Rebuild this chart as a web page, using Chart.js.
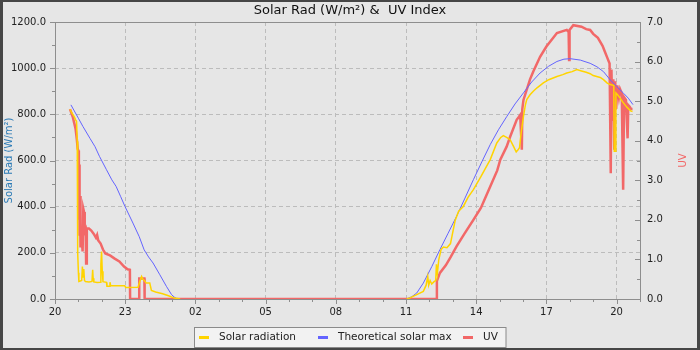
<!DOCTYPE html>
<html>
<head>
<meta charset="utf-8">
<script src="https://cdn.jsdelivr.net/npm/chart.js@4.4.0/dist/chart.umd.min.js"></script>
<style>
    html, body { margin: 0; padding: 0; background: #e6e6e6; }
    canvas { display: block; }
</style>
</head>
<body>
<canvas id="graficaSolar" width="700" height="350"></canvas>
<script>
        // Eje X: horas transcurridas desde las 20:00 (hasta las 21:00 del día siguiente)
        var ticksHoras = [0, 3, 6, 9, 12, 15, 18, 21, 24];
        var etiquetasHoras = ['20', '23', '02', '05', '08', '11', '14', '17', '20'];
        var ticksRadiacion = [0, 200, 400, 600, 800, 1000, 1200];
        var ticksUV = [0, 1, 2, 3, 4, 5, 6, 7];

        // Solar radiation (W/m²)
        var radiacionHoras = [
            0.64, 0.70, 0.76, 0.82, 0.88, 0.92, 0.95, 0.96, 0.98, 1.00,
            1.02, 1.08, 1.14, 1.17, 1.20, 1.23, 1.26, 1.30, 1.45, 1.58,
            1.61, 1.63, 1.66, 1.80, 1.93, 1.96, 1.99, 2.02, 2.05, 2.20,
            2.22, 2.32, 2.35, 2.38, 2.50, 2.98, 3.02, 3.55, 3.62, 3.70,
            3.76, 3.82, 3.90, 4.05, 4.12, 4.30, 4.60, 4.85, 5.10, 5.35,
            10.0,
            15.03, 15.17, 15.46, 15.74, 15.86, 15.93, 15.97, 16.03, 16.10, 16.20,
            16.27, 16.30, 16.34, 16.40, 16.50, 16.60, 16.75, 16.90, 17.00, 17.10,
            17.25, 17.45, 17.65, 17.88, 18.20, 18.60, 18.88, 19.05, 19.16, 19.30,
            19.45, 19.60, 19.71, 19.78, 19.85, 19.92, 20.02, 20.10, 20.16, 20.30,
            20.44, 20.60, 20.87, 21.10, 21.45, 21.70, 21.87, 22.10, 22.30, 22.50,
            22.70, 22.87, 23.00, 23.30, 23.44, 23.60, 23.70, 23.88, 23.90, 23.95,
            23.97, 24.05, 24.15, 24.25, 24.35, 24.45, 24.60, 24.68
        ];
        var radiacionValores = [
            822, 810, 800, 790, 776, 770, 683, 372, 199, 114,
            76, 78, 80, 141, 95, 130, 80, 76, 74, 76,
            127, 90, 74, 72, 73, 150, 206, 120, 75, 72,
            55, 55, 73, 57, 57, 57, 50, 51, 75, 98,
            85, 80, 69, 69, 37, 30, 23, 14, 4, 0,
            null,
            0, 5, 19, 33, 60, 98, 60, 80, 65, 75,
            80, 150, 110, 170, 215, 225, 222, 240, 290, 340,
            380, 401, 440, 474, 530, 604, 676, 700, 708, 700,
            690, 660, 637, 645, 655, 720, 791, 840, 864, 885,
            900, 915, 936, 950, 964, 972, 979, 985, 994, 988,
            982, 976, 968, 960, 950, 935, 930, 925, 640, 640,
            893, 884, 870, 855, 842, 830, 815, 812
        ];

        // Theoretical solar max (W/m²)
        var teoricaHoras = [
            0.68, 1.00, 1.19, 1.50, 1.71, 1.90, 2.20, 2.43, 2.61, 2.80,
            2.99, 3.33, 3.60, 3.81, 4.00, 4.19, 4.48, 4.76, 4.98, 5.10,
            5.22,
            10.0,
            15.03, 15.25, 15.46, 15.74, 16.10, 16.45, 16.80, 17.16,
            17.52, 17.88, 18.24, 18.60, 18.95, 19.31, 19.66, 20.02, 20.37, 20.73,
            21.09, 21.45, 21.75, 22.02, 22.45, 22.87, 23.16, 23.44, 23.73, 24.01,
            24.30, 24.50, 24.70
        ];
        var teoricaValores = [
            841, 783, 748, 695, 660, 618, 560, 516, 488, 445,
            401, 329, 270, 213, 182, 156, 105, 55, 19, 8,
            0,
            null,
            0, 10, 26, 69, 140, 214, 285, 358,
            437, 517, 594, 669, 733, 791, 845, 893, 940, 979,
            1008, 1029, 1039, 1041, 1035, 1021, 1006, 985, 949, 920,
            891, 870, 842
        ];

        // UV Index
        var uvHoras = [
            0.64, 0.70, 0.76, 0.82, 0.88, 0.93, 0.97, 1.00, 1.02, 1.03,
            1.05, 1.07, 1.09, 1.12, 1.15, 1.18, 1.21, 1.24, 1.27, 1.31,
            1.33, 1.36, 1.45, 1.55, 1.65, 1.75, 1.80, 1.85, 1.95, 2.05,
            2.15, 2.35, 2.55, 2.75, 2.95, 3.10, 3.20, 3.21, 3.59, 3.60,
            3.82, 3.83, 16.31, 16.32, 16.45, 16.70, 16.90, 17.16, 17.50, 17.88,
            18.20, 18.60, 18.90, 19.03, 19.30, 19.45, 19.73, 19.82, 19.88, 19.95,
            19.97, 20.02, 20.30, 20.44, 20.73, 21.00, 21.45, 21.87, 21.95, 21.97,
            21.99, 22.15, 22.50, 22.70, 22.87, 23.00, 23.20, 23.40, 23.50, 23.60,
            23.70, 23.75, 23.78, 23.82, 23.86, 23.90, 23.94, 23.98, 24.03, 24.10,
            24.15, 24.22, 24.28, 24.32, 24.40, 24.47, 24.50, 24.56, 24.62, 24.68
        ];
        var uvValores = [
            4.80, 4.70, 4.60, 4.45, 4.30, 4.05, 3.80, 3.75, 2.00, 3.40,
            1.60, 2.60, 1.30, 1.80, 1.45, 1.20, 2.28, 2.20, 1.70, 1.75,
            0.90, 1.78, 1.78, 1.73, 1.65, 1.55, 1.62, 1.48, 1.40, 1.25,
            1.15, 1.10, 1.02, 0.95, 0.82, 0.75, 0.74, 0, 0, 0.52,
            0.52, 0, 0, 0.45, 0.66, 0.85, 1.05, 1.33, 1.65, 2.00,
            2.30, 2.84, 3.25, 3.52, 3.85, 4.10, 4.53, 4.60, 4.65, 3.77,
            4.80, 5.03, 5.55, 5.75, 6.12, 6.38, 6.72, 6.80, 6.75, 6.04,
            6.80, 6.92, 6.88, 6.82, 6.80, 6.70, 6.60, 6.40, 6.25, 6.10,
            5.95, 3.18, 5.80, 4.50, 5.55, 3.77, 5.50, 4.80, 5.40, 5.10,
            5.30, 5.20, 2.76, 5.10, 5.03, 4.06, 4.90, 4.86, 4.80, 4.80
        ];

        var colorRadiacion = '#ffd400';
        var colorTeorica = '#6464ff';
        var colorUV = '#f26868';
        var colorRejilla = '#bcbcbc';
        var colorEje = '#8e8e8e';
        var fuente = 'DejaVu Sans';

        // Función para juntar horas y valores en puntos {x, y}
        function puntos(horas, valores) {
            return horas.map(function (h, i) {
                return { x: h, y: valores[i] };
            });
        }

        // Función para fijar los ticks de un eje
        function fijarTicks(valores) {
            return function (scale) {
                scale.ticks = valores.map(function (v) { return { value: v }; });
            };
        }

        // Fondo gris con marco oscuro
        var fondo = {
            id: 'fondo',
            beforeDraw: function (chart) {
                var ctx = chart.ctx;
                ctx.save();
                ctx.fillStyle = '#464646';
                ctx.fillRect(0, 0, chart.width, chart.height);
                ctx.fillStyle = '#e6e6e6';
                ctx.fillRect(3, 2, chart.width - 6, chart.height - 4);
                ctx.restore();
            }
        };

        // Marco del área, marcas de los ejes, título del eje UV y leyenda
        var decoracion = {
            id: 'decoracion',
            afterDraw: function (chart) {
                var ctx = chart.ctx;
                var a = chart.chartArea;
                var sx = chart.scales.x, sy = chart.scales.y, su = chart.scales.y2;
                var i, p, largo;

                ctx.save();
                ctx.strokeStyle = colorEje;
                ctx.lineWidth = 1;
                ctx.beginPath();
                for (i = 0; i <= 25; i++) {
                    p = Math.round(sx.getPixelForValue(i)) + 0.5;
                    largo = (i % 3 === 0) ? 5 : 3;
                    ctx.moveTo(p, a.bottom);
                    ctx.lineTo(p, a.bottom + largo);
                }
                for (i = 0; i <= 1200; i += 100) {
                    p = Math.round(sy.getPixelForValue(i)) + 0.5;
                    largo = (i % 200 === 0) ? 5 : 3;
                    ctx.moveTo(a.left, p);
                    ctx.lineTo(a.left - largo, p);
                }
                for (i = 0; i <= 14; i++) {
                    p = Math.round(su.getPixelForValue(i / 2)) + 0.5;
                    largo = (i % 2 === 0) ? 5 : 3;
                    ctx.moveTo(a.right, p);
                    ctx.lineTo(a.right - largo, p);
                }
                ctx.stroke();
                ctx.strokeRect(Math.round(a.left) + 0.5, Math.round(a.top) + 0.5,
                    Math.round(a.right - a.left), Math.round(a.bottom - a.top));

                // título del eje derecho, leído de abajo arriba
                ctx.fillStyle = colorUV;
                ctx.font = '10px "' + fuente + '"';
                ctx.textAlign = 'center';
                ctx.textBaseline = 'middle';
                ctx.translate(683, (a.top + a.bottom) / 2);
                ctx.rotate(-Math.PI / 2);
                ctx.fillText('UV', 0, 0);
                ctx.restore();

                // leyenda
                var centro = chart.width / 2;
                var yLeyenda = 337.5;
                ctx.save();
                ctx.fillStyle = '#f2f2f2';
                ctx.fillRect(centro - 155.5, 327, 311.5, 20);
                ctx.strokeStyle = '#8a8a8a';
                ctx.lineWidth = 1;
                ctx.strokeRect(centro - 155.5, 327.5, 311.5, 20);
                ctx.font = '10.5px "' + fuente + '"';
                ctx.textAlign = 'left';
                ctx.textBaseline = 'middle';
                var elementos = chart.data.datasets;
                var inicios = [-151, -32, 113];
                elementos.forEach(function (ds, k) {
                    var x0 = centro + inicios[k];
                    ctx.fillStyle = ds.borderColor;
                    ctx.fillRect(x0, yLeyenda - 1.5, 10, 3);
                    ctx.fillStyle = '#222';
                    ctx.fillText(ds.label, x0 + 20, yLeyenda);
                });
                ctx.restore();
            }
        };

        var ctx = document.getElementById('graficaSolar').getContext('2d');
        var grafica = new Chart(ctx, {
            type: 'line',
            data: {
                datasets: [{
                    label: 'Solar radiation',
                    data: puntos(radiacionHoras, radiacionValores),
                    borderColor: colorRadiacion,
                    borderWidth: 1.5,
                    yAxisID: 'y'
                }, {
                    label: 'Theoretical solar max',
                    data: puntos(teoricaHoras, teoricaValores),
                    borderColor: colorTeorica,
                    borderWidth: 1,
                    yAxisID: 'y'
                }, {
                    label: 'UV',
                    data: puntos(uvHoras, uvValores),
                    borderColor: colorUV,
                    borderWidth: 2.5,
                    yAxisID: 'y2'
                }]
            },
            options: {
                responsive: false,
                animation: false,
                devicePixelRatio: 1,
                spanGaps: false,
                elements: {
                    point: { radius: 0 },
                    line: { tension: 0, fill: false }
                },
                layout: { padding: { left: 0, right: 0, top: 0, bottom: 27 } },
                plugins: {
                    legend: { display: false },
                    tooltip: { enabled: false },
                    title: {
                        display: true,
                        text: 'Solar Rad (W/m²) &  UV Index',
                        color: '#111',
                        font: { family: fuente, size: 13, weight: 'normal' },
                        padding: { top: 3, bottom: 3.4 }
                    }
                },
                scales: {
                    x: {
                        type: 'linear',
                        min: 0,
                        max: 25,
                        afterBuildTicks: fijarTicks(ticksHoras),
                        afterFit: function (scale) { scale.height = 24; },
                        border: { display: false, dash: [4, 3] },
                        grid: {
                            drawTicks: false,
                            color: function (c) { return c.tick && c.tick.value === 0 ? 'transparent' : colorRejilla; }
                        },
                        ticks: {
                            padding: 7,
                            maxRotation: 0,
                            autoSkip: false,
                            color: '#222',
                            font: { family: fuente, size: 10 },
                            callback: function (v) { return etiquetasHoras[ticksHoras.indexOf(v)]; }
                        }
                    },
                    y: {
                        position: 'left',
                        min: 0,
                        max: 1200,
                        afterBuildTicks: fijarTicks(ticksRadiacion),
                        afterFit: function (scale) { scale.width = 55; },
                        border: { display: false, dash: [4, 3] },
                        grid: {
                            drawTicks: false,
                            color: function (c) {
                                var v = c.tick ? c.tick.value : 0;
                                return (v === 0 || v === 1200) ? 'transparent' : colorRejilla;
                            }
                        },
                        title: {
                            display: true,
                            text: 'Solar Rad (W/m²)',
                            color: '#2a7ab5',
                            font: { family: fuente, size: 10 },
                            padding: { top: 3.5, bottom: 0 }
                        },
                        ticks: {
                            padding: 9,
                            color: '#222',
                            font: { family: fuente, size: 10 },
                            callback: function (v) { return v.toFixed(1); }
                        }
                    },
                    y2: {
                        position: 'right',
                        min: 0,
                        max: 7,
                        afterBuildTicks: fijarTicks(ticksUV),
                        afterFit: function (scale) { scale.width = 60; },
                        border: { display: false },
                        grid: { display: false, drawTicks: false },
                        ticks: {
                            padding: 7,
                            color: '#222',
                            font: { family: fuente, size: 10 },
                            callback: function (v) { return v.toFixed(1); }
                        }
                    }
                }
            },
            plugins: [fondo, decoracion]
        });
</script>
</body>
</html>
